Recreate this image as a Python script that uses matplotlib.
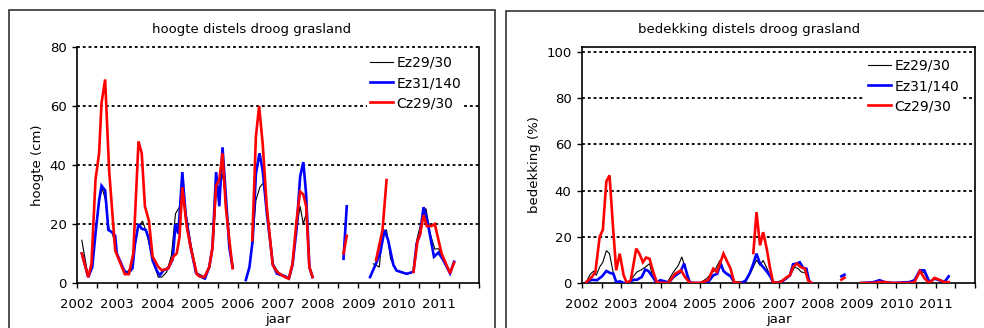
import numpy as np
import matplotlib
matplotlib.use("Agg")
import matplotlib.pyplot as plt
from matplotlib.patches import Rectangle
from matplotlib.ticker import MultipleLocator, FuncFormatter

nan = np.nan

# ---------------- hoogte (cm) ----------------
h_ez29_t = [2002.12, 2002.28, 2002.38, 2002.46, 2002.55, 2002.63, 2002.70, 2002.80, 2002.88, 2002.96,
            2003.11, 2003.24, 2003.36, 2003.44, 2003.53, 2003.63, 2003.73, 2003.88, 2004.02, 2004.11,
            2004.23, 2004.35, 2004.45, 2004.56, 2004.62, 2004.73, 2004.85, 2004.98, 2005.18, 2005.29,
            2005.39, 2005.47, 2005.56, 2005.62, 2005.72, 2005.81, 2005.87, nan,
            2006.36, 2006.45, 2006.55, 2006.64, 2006.72, 2006.87, 2007.01, 2007.17, 2007.27, 2007.36,
            2007.46, 2007.55, 2007.63, 2007.70, 2007.78, 2007.86, nan,
            2008.63, nan,
            2009.37, 2009.52, 2009.60, 2009.70, 2009.80, 2009.95, 2010.20, 2010.37, 2010.45, 2010.55,
            2010.68, 2010.78, 2010.90, 2011.00, 2011.11, 2011.28, 2011.38]
h_ez29 = [14.5, 2, 6.5, 18, 28, 32, 28.6, 18, 17, 12,
          5.4, 3.7, 5.4, 14.5, 19, 21, 17, 8.2, 2, 2,
          3.7, 9.4, 23.5, 26, 32.5, 22, 12, 3.4, 2, 5.4,
          14.5, 32.5, 32.5, 37, 26, 12, 5.4, nan,
          12, 28, 32.5, 34, 26, 6.5, 3.7, 2, 1.5, 6,
          18, 26, 20, 23.5, 5.4, 2, nan,
          20, nan,
          6.5, 5.4, 17.3, 18, 8.2, 4.3, 3.2, 3.8, 14.5, 20,
          25.3, 17, 11.5, 11.6, 7.5, 3.3, 7.0]

h_ez31_t = [2002.12, 2002.28, 2002.38, 2002.46, 2002.55, 2002.61, 2002.70, 2002.78, 2002.86, 2002.95,
            2002.99, 2003.19, 2003.28, 2003.38, 2003.44, 2003.53, 2003.61, 2003.71, 2003.79, 2003.88,
            2003.98, 2004.06, 2004.15, 2004.27, 2004.38, 2004.45, 2004.52, 2004.62, 2004.70, 2004.81,
            2004.96, 2005.06, 2005.18, 2005.29, 2005.37, 2005.46, 2005.54, 2005.62, 2005.70, 2005.79,
            2005.87, nan,
            2006.20, 2006.29, 2006.37, 2006.45, 2006.54, 2006.62, 2006.72, 2006.87, 2006.97, 2007.17,
            2007.27, 2007.36, 2007.46, 2007.55, 2007.63, 2007.70, 2007.78, 2007.86, nan,
            2008.63, 2008.71, nan,
            2009.29, 2009.45, 2009.54, 2009.65, 2009.74, 2009.87, 2009.95, 2010.20, 2010.37, 2010.45,
            2010.53, 2010.62, 2010.71, 2010.88, 2010.99, 2011.11, 2011.28, 2011.38]
h_ez31 = [10, 2, 5.4, 16.7, 28, 33, 31.4, 18, 17.3, 16,
          10, 3.7, 3.4, 5, 13, 20, 18.4, 18, 15, 7.7,
          4.3, 2.6, 4.3, 5, 8, 20, 16.7, 37.6, 23.5, 13.3,
          3.4, 2.3, 1.5, 5.4, 12, 37.6, 26, 46, 30, 12,
          5.4, nan,
          1, 5.4, 14.5, 37, 44, 38, 24, 6.5, 3.2, 2.3,
          1.5, 6, 18, 36, 41, 30, 5.4, 2, nan,
          8.2, 26, nan,
          2, 7, 10, 18, 14.5, 6.1, 4.2, 3.1, 3.8, 13.4,
          16.3, 25.7, 21.4, 8.9, 10.3, 7.8, 3.3, 7.2]

h_cz29_t = [2002.12, 2002.28, 2002.36, 2002.46, 2002.55, 2002.61, 2002.70, 2002.80, 2002.95, 2003.19,
            2003.29, 2003.40, 2003.53, 2003.61, 2003.69, 2003.79, 2003.88, 2004.02, 2004.11, 2004.27,
            2004.40, 2004.48, 2004.55, 2004.62, 2004.73, 2004.83, 2004.98, 2005.04, 2005.17, 2005.29,
            2005.37, 2005.46, 2005.54, 2005.62, 2005.70, 2005.79, 2005.87, nan,
            2006.36, 2006.45, 2006.53, 2006.62, 2006.72, 2006.87, 2006.98, 2007.17, 2007.27, 2007.36,
            2007.46, 2007.55, 2007.63, 2007.70, 2007.78, 2007.86, nan,
            2008.63, 2008.71, nan,
            2009.44, 2009.60, 2009.70, nan,
            2010.37, 2010.47, 2010.53, 2010.62, 2010.70, 2010.82, 2010.90, 2011.07, 2011.28, 2011.38]
h_cz29 = [10, 2, 6.5, 35, 44, 61, 69, 38, 11, 3,
          3, 10, 48, 44, 26, 21, 9, 5.5, 4.3, 5,
          9, 10, 15.6, 32.5, 19, 12, 3, 2.3, 2, 5.4,
          12, 33, 35, 44, 26, 14.5, 5, nan,
          14.5, 49.5, 60, 47, 26, 6, 3.7, 2, 1.5, 6.5,
          21, 31, 30, 26, 5.4, 2, nan,
          10, 16, nan,
          7.8, 18, 34.9, nan,
          3.8, 14.3, 16.3, 23, 19.3, 19.3, 20, 10, 3.3, 6.9]

# ---------------- bedekking (%) ----------------
b_ez29_t = [2002.11, 2002.21, 2002.30, 2002.36, 2002.45, 2002.53, 2002.62, 2002.70, 2002.79, 2002.87,
            2003.06, 2003.18, 2003.31, 2003.40, 2003.52, 2003.61, 2003.72, 2003.80, 2003.90, 2004.16,
            2004.33, 2004.45, 2004.54, 2004.62, 2004.75, 2005.00, 2005.17, 2005.30, 2005.38, 2005.51,
            2005.61, 2005.72, 2005.81, 2005.89, 2006.17, 2006.27, 2006.36, 2006.44, 2006.53, 2006.61,
            2006.71, 2006.80, 2006.91, 2007.19, 2007.30, 2007.41, 2007.50, 2007.58, 2007.69, 2007.78,
            2007.84, nan,
            2009.11, 2009.40, 2009.57, 2009.70, 2009.91, 2010.33, 2010.46, 2010.60, 2010.71, 2010.84,
            2010.97, 2011.09, 2011.22, 2011.33]
b_ez29 = [0.4, 3.8, 5.2, 3.3, 6.9, 9, 14, 12.7, 4.8, 0.4,
          0, 0, 2.9, 4.8, 5.8, 6.9, 8.4, 2.6, 0, 0,
          4.8, 7.6, 11.3, 6.9, 0.4, 0, 1.9, 4.3, 5.5, 9.8,
          4.8, 4, 2.6, 0.4, 0.6, 3.8, 6.9, 10, 7.6, 9.8,
          6.2, 2.6, 0, 1.9, 3.3, 6.9, 6.2, 4.8, 4.3, 0.4,
          0, nan,
          0, 0.2, 1.0, 0.4, 0, 0.4, 1.2, 5.0, 4.5, 0.4,
          1.9, 1.2, 0.4, 2.5]

b_ez31_t = [2002.11, 2002.25, 2002.38, 2002.51, 2002.62, 2002.72, 2002.80, 2002.87, 2002.97, 2003.06,
            2003.18, 2003.31, 2003.40, 2003.52, 2003.61, 2003.69, 2003.80, 2003.90, 2003.99, 2004.12,
            2004.20, 2004.33, 2004.50, 2004.60, 2004.68, 2004.75, 2005.00, 2005.21, 2005.34, 2005.44,
            2005.53, 2005.60, 2005.68, 2005.78, 2005.87, 2006.06, 2006.17, 2006.27, 2006.36, 2006.44,
            2006.53, 2006.61, 2006.71, 2006.80, 2006.86, 2007.03, 2007.19, 2007.29, 2007.37, 2007.47,
            2007.54, 2007.63, 2007.71, 2007.78, 2007.84, nan,
            2008.60, 2008.68, nan,
            2009.11, 2009.40, 2009.57, 2009.70, 2009.91, 2010.33, 2010.46, 2010.60, 2010.71, 2010.84,
            2010.97, 2011.09, 2011.22, 2011.33]
b_ez31 = [0.4, 1.4, 1.2, 2.9, 5.2, 4.3, 4, 0.4, 0.7, 0,
          0, 1.4, 1.4, 2.6, 5.8, 5.2, 2.6, 0, 1.2, 0.7,
          0, 2.6, 4.8, 8.4, 3.3, 0, 0, 0.4, 3.3, 4,
          8.4, 5.2, 4, 2.9, 0.4, 0, 1.2, 4.3, 8.4, 12.7,
          8.4, 6.9, 4.8, 2.6, 0.4, 0, 1.9, 3.3, 8.1, 8.4,
          9, 6.5, 6.2, 0.8, 0, nan,
          2.9, 3.6, nan,
          0, 0.3, 1.2, 0.4, 0, 0.4, 1.2, 5.5, 5.5, 0.4,
          1.9, 1.2, 0.4, 2.9]

b_cz29_t = [2002.11, 2002.25, 2002.34, 2002.45, 2002.53, 2002.62, 2002.70, 2002.79, 2002.87, 2002.96,
            2003.06, 2003.14, 2003.24, 2003.38, 2003.46, 2003.55, 2003.63, 2003.72, 2003.80, 2003.90,
            2004.03, 2004.20, 2004.37, 2004.52, 2004.62, 2004.75, 2005.00, 2005.21, 2005.34, 2005.43,
            2005.51, 2005.60, 2005.68, 2005.78, 2005.87, 2006.02, nan,
            2006.36, 2006.44, 2006.53, 2006.61, 2006.70, 2006.78, 2006.86, 2007.03, 2007.19, 2007.29,
            2007.37, 2007.47, 2007.56, 2007.67, 2007.75, 2007.84, nan,
            2008.60, 2008.68, nan,
            2009.11, 2009.40, 2009.57, 2009.70, 2009.91, 2010.33, 2010.46, 2010.60, 2010.72, 2010.84,
            2010.97, 2011.09, 2011.22, 2011.33]
b_cz29 = [0.4, 2.6, 4.8, 20, 23, 44, 46.6, 24, 5.5, 12.7,
          3.3, 0, 1.2, 14.9, 12.7, 9, 11, 10.5, 5.5, 0.4,
          0, 0, 4, 5.5, 2.6, 0, 0, 1.2, 6.2, 4.8,
          8.4, 12.7, 9.8, 6.2, 0.4, 0, nan,
          13, 30.7, 16.3, 22, 14.9, 6.9, 0.4, 0, 2.3, 3.3,
          6.9, 8.4, 6.9, 6.2, 1.2, 0, nan,
          1.4, 2.3, nan,
          0, 0, 0.4, 0.4, 0, 0, 0.4, 5.2, 1.9, 0,
          2.2, 1.4, 0.4, 0.4]

labels = ["Ez29/30", "Ez31/140", "Cz29/30"]
colors = ["black", "#0000FF", "#FF0000"]
widths = [0.8, 1.9, 1.9]

W, H = 984, 328
fig = plt.figure(figsize=(W / 100, H / 100), dpi=100)
plt.rcParams['font.family'] = ['DejaVu Sans']
FS = 9.5


def fx(px):
    return px / W


def fy(py):
    return 1 - py / H


# outer frames
for (x0, y0, x1) in [(9, 10, 495), (506, 11, 995)]:
    fig.add_artist(Rectangle((fx(x0), fy(340)), fx(x1 - x0), (340 - y0) / H,
                             transform=fig.transFigure, fill=False,
                             edgecolor='#222222', linewidth=1.1, zorder=0))


def year_fmt(v, pos):
    if abs(v - round(v)) < 1e-6 and round(v) < 2012:
        return str(int(round(v)))
    return ""


def setup(ax, ymax, ystep, ytop, ylabel, top_solid):
    ax.set_xlim(2002, 2012)
    ax.set_ylim(0, ytop)
    ax.xaxis.set_major_locator(MultipleLocator(0.5))
    ax.xaxis.set_major_formatter(FuncFormatter(year_fmt))
    ax.set_yticks(np.arange(0, ymax + 1, ystep))
    ax.tick_params(axis='both', direction='out', length=3.5, width=1.0,
                   labelsize=FS, colors='black')
    ax.tick_params(axis='x', pad=7)
    ax.tick_params(axis='y', pad=4)
    for y in np.arange(ystep, ymax + 1, ystep):
        ax.axhline(y, color='black', linewidth=1.3, linestyle=(0, (1.6, 1.6)), zorder=1,
                   clip_on=False)
    for s in ['left', 'bottom', 'right']:
        ax.spines[s].set_linewidth(1.2)
        ax.spines[s].set_color('black')
    ax.spines['top'].set_visible(top_solid)
    ax.spines['top'].set_linewidth(1.2)
    ax.set_ylabel(ylabel, fontsize=FS, labelpad=4)
    ax.set_xlabel("jaar", fontsize=FS, labelpad=2)


ax1 = fig.add_axes([fx(77), fy(283), fx(479 - 77), (283 - 47) / H])
ax2 = fig.add_axes([fx(582), fy(283), fx(975 - 582), (283 - 47) / H])

setup(ax1, 80, 20, 80, "hoogte (cm)", False)
setup(ax2, 100, 20, 102.2, "bedekking (%)", True)

for ax, series in [(ax1, [(h_ez29_t, h_ez29), (h_ez31_t, h_ez31), (h_cz29_t, h_cz29)]),
                   (ax2, [(b_ez29_t, b_ez29), (b_ez31_t, b_ez31), (b_cz29_t, b_cz29)])]:
    for (t, v), lab, c, lw in zip(series, labels, colors, widths):
        ax.plot(t, v, color=c, linewidth=lw, label=lab, zorder=3,
                solid_joinstyle='miter')

fig.text(fx(252), fy(29), "hoogte distels droog grasland", ha='center', va='center', fontsize=FS)
fig.text(fx(749), fy(29), "bedekking distels droog grasland", ha='center', va='center', fontsize=FS)

for ax, x0, y0 in [(ax1, 367, 53), (ax2, 865, 56)]:
    leg = ax.legend(loc='upper left', bbox_to_anchor=(fx(x0), fy(y0)),
                    bbox_transform=fig.transFigure, fontsize=10, frameon=True,
                    handlelength=1.65, handletextpad=0.25, labelspacing=0.45,
                    borderpad=0.2, borderaxespad=0, fancybox=False)
    leg.get_frame().set_facecolor('white')
    leg.get_frame().set_edgecolor('none')
    leg.get_frame().set_alpha(1)
    leg.set_zorder(5)

fig.savefig("out.png", dpi=100)
